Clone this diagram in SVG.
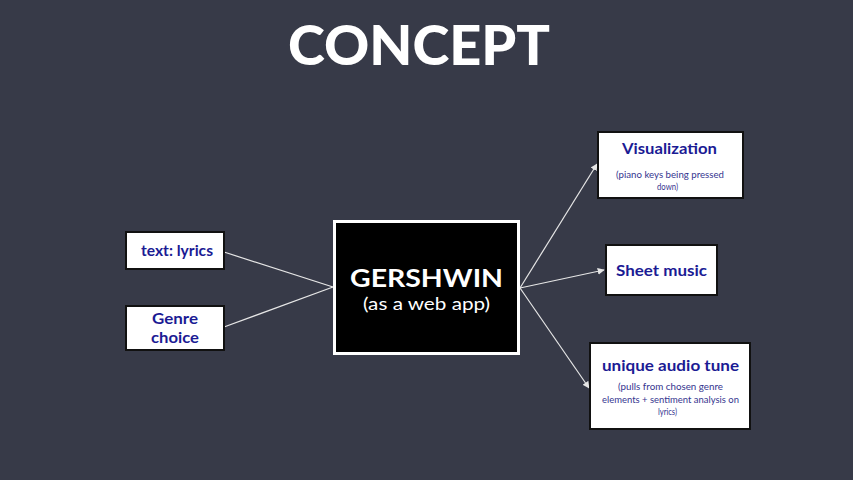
<svg xmlns="http://www.w3.org/2000/svg" width="853" height="480" viewBox="0 0 853 480">
<style>
.box{fill:#ffffff;stroke:#111111;stroke-width:2}
.lbl{font-family:Lato,"Liberation Sans",sans-serif;font-weight:bold;fill:#1b1b94;text-anchor:middle}
.small{font-family:Lato,"Liberation Sans",sans-serif;font-size:8.5px;fill:#35358f;text-anchor:middle}
.conn{stroke:#e6e6e6;stroke-width:1.2;fill:none}
</style>
<defs>
<marker id="ah" viewBox="0 0 10 10" refX="9" refY="5" markerWidth="7" markerHeight="7" orient="auto" markerUnits="userSpaceOnUse">
<path d="M0,0 L10,5 L0,10 z" fill="#e6e6e6"/>
</marker>
</defs>
<rect width="853" height="480" fill="#373a48"/>
<text x="419" y="65" font-family="Lato,'Liberation Sans',sans-serif" font-weight="900" font-size="55" fill="#ffffff" text-anchor="middle" textLength="262" lengthAdjust="spacingAndGlyphs">CONCEPT</text>
<g id="connectors">
<line class="conn" x1="224" y1="252" x2="333" y2="287"/>
<line class="conn" x1="224" y1="327" x2="333" y2="287"/>
<line class="conn" x1="520" y1="288" x2="597" y2="164" marker-end="url(#ah)"/>
<line class="conn" x1="520" y1="288" x2="604" y2="270" marker-end="url(#ah)"/>
<line class="conn" x1="520" y1="288" x2="589" y2="388" marker-end="url(#ah)"/>
</g>
<g id="lyrics">
<rect class="box" x="126" y="232" width="98" height="37"/>
<text class="lbl" x="177" y="256" font-size="15" textLength="72" lengthAdjust="spacingAndGlyphs">text: lyrics</text>
</g>
<g id="genre">
<rect class="box" x="126" y="306" width="98" height="44"/>
<text class="lbl" x="175" y="324" font-size="15" textLength="46" lengthAdjust="spacingAndGlyphs">Genre</text>
<text class="lbl" x="175" y="343" font-size="15" textLength="48" lengthAdjust="spacingAndGlyphs">choice</text>
</g>
<g id="gershwin">
<rect x="334.5" y="221.5" width="184" height="132" fill="#000000" stroke="#ffffff" stroke-width="3"/>
<text x="426.5" y="287" font-family="Lato,'Liberation Sans',sans-serif" font-weight="bold" font-size="25.5" fill="#ffffff" text-anchor="middle" textLength="153" lengthAdjust="spacingAndGlyphs">GERSHWIN</text>
<text x="426.5" y="310" font-family="Lato,'Liberation Sans',sans-serif" font-size="18" fill="#ffffff" text-anchor="middle" textLength="127" lengthAdjust="spacingAndGlyphs">(as a web app)</text>
</g>
<g id="visualization">
<rect class="box" x="598" y="132" width="145" height="66"/>
<text class="lbl" x="669.5" y="154" font-size="15.5" textLength="95" lengthAdjust="spacingAndGlyphs">Visualization</text>
<text class="small" x="670" y="178" textLength="108" lengthAdjust="spacingAndGlyphs">(piano keys being pressed</text>
<text class="small" x="667.5" y="190" textLength="21" lengthAdjust="spacingAndGlyphs">down)</text>
</g>
<g id="sheet">
<rect class="box" x="606" y="245" width="111" height="50"/>
<text class="lbl" x="661.5" y="276" font-size="15.5" textLength="91" lengthAdjust="spacingAndGlyphs">Sheet music</text>
</g>
<g id="audio">
<rect class="box" x="590" y="343" width="160" height="86"/>
<text class="lbl" x="670.5" y="371" font-size="15.5" textLength="137" lengthAdjust="spacingAndGlyphs">unique audio tune</text>
<text class="small" x="670.5" y="390" textLength="105" lengthAdjust="spacingAndGlyphs">(pulls from chosen genre</text>
<text class="small" x="670.5" y="403" textLength="137" lengthAdjust="spacingAndGlyphs">elements + sentiment analysis on</text>
<text class="small" x="667.5" y="415" textLength="19" lengthAdjust="spacingAndGlyphs">lyrics)</text>
</g>
</svg>
